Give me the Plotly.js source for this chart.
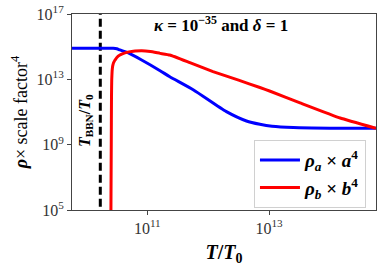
<!DOCTYPE html>
<html>
<head>
<meta charset="utf-8">
<script src="https://cdn.plot.ly/plotly-3.0.1.min.js"></script>
<style>html,body{margin:0;padding:0;background:#fff;}#chart{width:382px;height:268px;}</style>
</head>
<body>
<div id="chart"></div>
<script>
// Values (base-10 exponents)
const blueLogT = [9.763, 10.44, 10.50, 10.55, 10.68, 10.90, 11.21, 11.37, 11.76, 12.30, 12.63, 12.85, 13.05, 13.40, 14.00, 14.758];
const blueLogRho = [14.90, 14.90, 14.87, 14.80, 14.63, 14.20, 13.53, 13.16, 12.35, 11.02, 10.45, 10.25, 10.13, 10.05, 10.01, 10.00];
const redLogT = [10.400, 10.404, 10.408, 10.412, 10.416, 10.422, 10.43, 10.44, 10.455, 10.47, 10.50, 10.55, 10.60, 10.70, 10.80, 10.91, 11.05, 11.21, 11.37, 11.70, 12.08, 12.50, 12.85, 13.02, 13.51, 14.17, 14.758];
const redLogRho = [3.0, 6.0, 9.0, 12.0, 13.0, 13.5, 13.78, 13.95, 14.08, 14.18, 14.34, 14.49, 14.58, 14.68, 14.73, 14.75, 14.70, 14.59, 14.49, 14.02, 13.47, 12.95, 12.50, 12.27, 11.56, 10.63, 10.00];
const logTBBN = 10.228;
const yTickVals = [1e5, 1e9, 1e13, 1e17];
const yTickText = ['10<sup>5</sup>', '10<sup>9</sup>', '10<sup>13</sup>', '10<sup>17</sup>'];
const xTickVals = [1e11, 1e13];
const xTickText = ['10<sup>11</sup>', '10<sup>13</sup>'];
const legendNames = ['<b><i>ρ<sub>a</sub></i> × <i>a</i><sup>4</sup></b>', '<b><i>ρ<sub>b</sub></i> × <i>b</i><sup>4</sup></b>'];

const pow10 = a => a.map(v => Math.pow(10, v));
const serif = 'Liberation Serif, DejaVu Serif, serif';

const traces = [
  {x: [Math.pow(10, logTBBN), Math.pow(10, logTBBN)], y: [1e3, 1e19], mode: 'lines',
   line: {color: 'black', width: 3, dash: '8px,4px'}, showlegend: false, hoverinfo: 'skip'},
  {x: pow10(blueLogT), y: pow10(blueLogRho), mode: 'lines', name: legendNames[0], legendgroup: 'a',
   line: {color: '#0000ff', width: 3, shape: 'spline', smoothing: 0.6}},
  {x: pow10(redLogT), y: pow10(redLogRho), mode: 'lines', name: legendNames[1], legendgroup: 'b',
   line: {color: '#ff0000', width: 3, shape: 'spline', smoothing: 0.3}}
];

const layout = {
  width: 382, height: 268,
  margin: {l: 72, r: 6, t: 14, b: 58},
  paper_bgcolor: '#fff', plot_bgcolor: '#fff',
  font: {family: serif, color: '#000'},
  showlegend: true,
  legend: {x: 0.967, xanchor: 'right', y: 0.357, yanchor: 'top', bgcolor: '#fff',
    bordercolor: '#d0d0d0', borderwidth: 1, font: {size: 19, family: serif}, tracegroupgap: 0,
    itemwidth: 40},
  xaxis: {type: 'log', range: [9.763, 14.758], tickvals: xTickVals, ticktext: xTickText,
    ticks: 'outside', ticklen: 4, tickcolor: '#444', showgrid: false, zeroline: false,
    showline: true, linecolor: '#444', linewidth: 1, mirror: true,
    tickfont: {size: 16, family: serif, color: '#333'},
    title: {text: '<b><i>T</i>/<i>T</i><sub>0</sub></b>', font: {size: 20, family: serif}, standoff: 8}},
  yaxis: {type: 'log', range: [5, 17], tickvals: yTickVals, ticktext: yTickText,
    ticks: 'outside', ticklen: 4, tickcolor: '#444', showgrid: false, zeroline: false,
    showline: true, linecolor: '#444', linewidth: 1, mirror: true,
    tickfont: {size: 16, family: serif, color: '#333'},
    title: {text: '<b><i>ρ</i></b>× scale factor<sup>4</sup>', font: {size: 18, family: serif}, standoff: 4}},
  annotations: [
    {xref: 'paper', yref: 'paper', x: 0.49, y: 0.949, xanchor: 'center', yanchor: 'middle', showarrow: false,
     text: '<b><i>κ</i> = 10<sup>−35</sup> and <i>δ</i> = 1</b>', font: {size: 17, family: serif}},
    {xref: 'paper', yref: 'paper', x: 0.043, y: 0.454, xanchor: 'center', yanchor: 'middle', showarrow: false,
     textangle: -90, text: '<b><i>T</i><sub>BBN</sub>/<i>T</i><sub>0</sub></b>', font: {size: 16, family: serif}}
  ]
};

Plotly.newPlot('chart', traces, layout, {displayModeBar: false, staticPlot: true});
</script>
</body>
</html>
